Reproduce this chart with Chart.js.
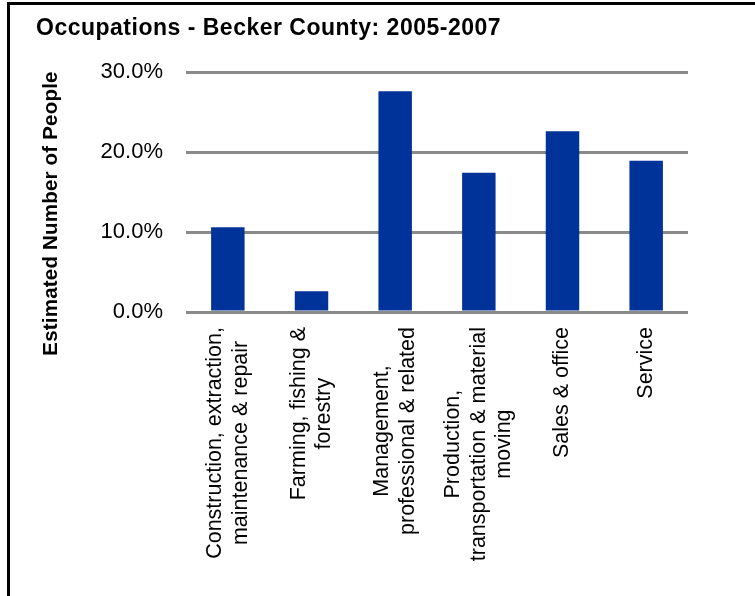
<!DOCTYPE html>
<html>
<head>
<meta charset="utf-8">
<script src="https://cdn.jsdelivr.net/npm/chart.js@4.4.0/dist/chart.umd.min.js"></script>
<style>
  html, body { margin: 0; padding: 0; background: #fff; }
  #wrap { position: relative; width: 755px; height: 596px; }
</style>
</head>
<body>
<div id="wrap"><canvas id="occChart"></canvas></div>
<script>
const chartTitle = 'Occupations - Becker County: 2005-2007';
const yAxisTitle = 'Estimated Number of People';
const categories = [
    ['Construction, extraction,', 'maintenance & repair'],
    ['Farming, fishing &', 'forestry'],
    ['Management,', 'professional & related'],
    ['Production,', 'transportation & material', 'moving'],
    ['Sales & office'],
    ['Service']
];
const shares = [10.6, 2.6, 27.6, 17.4, 22.6, 18.9];
const yTicks = [0, 10, 20, 30];

const FONT = '"Liberation Sans", Arial, Helvetica, sans-serif';

// frame, title, axis title and rotated category labels
const decorations = {
    id: 'decorations',
    afterDraw(chart) {
        const ctx = chart.ctx;
        const area = chart.chartArea;
        const xScale = chart.scales.x;

        ctx.save();
        ctx.fillStyle = '#000';
        ctx.fillRect(7, 2, chart.width - 7, 3);
        ctx.fillRect(7, 2, 3, chart.height - 2);

        ctx.font = 'bold 23px ' + FONT;
        ctx.letterSpacing = '0.5px';
        ctx.textAlign = 'left';
        ctx.textBaseline = 'alphabetic';
        ctx.fillText(chartTitle, 36, 35);

        ctx.font = 'bold 20.5px ' + FONT;
        ctx.letterSpacing = '0.2px';
        ctx.translate(57, 213.5);
        ctx.rotate(-Math.PI / 2);
        ctx.textAlign = 'center';
        ctx.fillText(yAxisTitle, 0, 0);
        ctx.restore();

        ctx.save();
        ctx.font = '21.5px ' + FONT;
        ctx.fillStyle = '#000';
        ctx.textAlign = 'center';
        ctx.textBaseline = 'middle';
        categories.forEach((lines, i) => {
            const cx = xScale.getPixelForValue(i);
            const longest = Math.max(...lines.map(l => ctx.measureText(l).width));
            const cy = area.bottom + 15 + longest / 2;
            lines.forEach((line, j) => {
                ctx.save();
                ctx.translate(cx + (j - (lines.length - 1) / 2) * 25.5, cy);
                ctx.rotate(-Math.PI / 2);
                ctx.fillText(line, 0, 0);
                ctx.restore();
            });
        });
        ctx.restore();
    }
};

new Chart(document.getElementById('occChart'), {
    type: 'bar',
    data: {
        labels: categories,
        datasets: [{
            data: shares,
            backgroundColor: '#003399',
            barPercentage: 0.4,
            categoryPercentage: 1.0
        }]
    },
    options: {
        responsive: true,
        maintainAspectRatio: false,
        animation: false,
        layout: { padding: { top: 72, right: 67, bottom: 0, left: 0 } },
        plugins: {
            legend: { display: false },
            tooltip: { enabled: false }
        },
        scales: {
            x: {
                grid: { display: false },
                border: { display: false },
                ticks: { display: false },
                afterFit: (scale) => { scale.height = 284; }
            },
            y: {
                min: 0,
                max: 30,
                afterBuildTicks: (scale) => { scale.ticks = yTicks.map(v => ({ value: v })); },
                grid: { color: '#8a8a8a', lineWidth: 3, drawTicks: false },
                border: { display: false },
                ticks: {
                    color: '#000',
                    padding: 23,
                    font: { family: FONT, size: 22 },
                    callback: (v) => v.toFixed(1) + '%'
                },
                afterFit: (scale) => { scale.width = 186; }
            }
        }
    },
    plugins: [decorations]
});
</script>
</body>
</html>
